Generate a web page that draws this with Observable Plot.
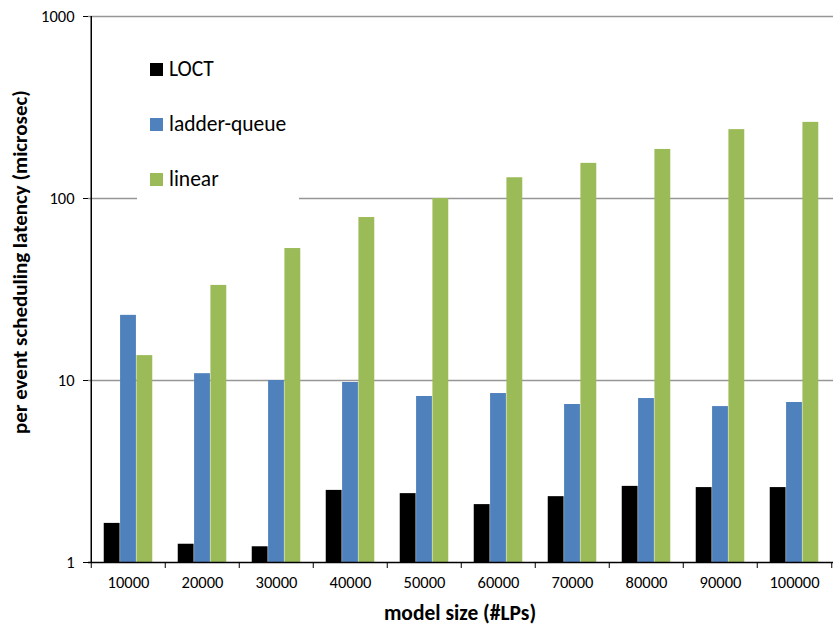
<!DOCTYPE html>
<html>
<head>
<meta charset="utf-8">
<script src="https://cdn.jsdelivr.net/npm/d3@7"></script>
<script src="https://cdn.jsdelivr.net/npm/@observablehq/plot@0.6"></script>
<style>
  html, body { margin: 0; padding: 0; background: #fff; }
  #wrap { position: relative; width: 835px; height: 627px; font-family: Carlito, Calibri, Lato, "Open Sans", sans-serif; }
  #legend { position: absolute; left: 137px; top: 48px; width: 162px; height: 158px; background: #fff; }
  .item { position: absolute; left: 13px; height: 26px; display: flex; align-items: center; font-size: 21.5px; color: #000; }
  .sw { width: 13px; height: 13px; margin-right: 6px; }
  .ttl { position: absolute; font-weight: bold; font-size: 21.5px; color: #000; white-space: nowrap; line-height: 1; }
</style>
</head>
<body>
<div id="wrap"></div>
<script>
const sizes = ["10000","20000","30000","40000","50000","60000","70000","80000","90000","100000"];
const seriesNames = ["LOCT","ladder-queue","linear"];
const seriesColors = ["#000000","#4F81BD","#9BBB59"];
const loct = [1.64, 1.26, 1.22, 2.49, 2.39, 2.08, 2.30, 2.62, 2.58, 2.58];
const ladderQueue = [22.8, 10.9, 10.0, 9.75, 8.17, 8.48, 7.38, 7.96, 7.19, 7.57];
const linear = [13.7, 33.3, 53.1, 78.6, 100, 130, 156, 186, 239, 262];
const yTicks = [1, 10, 100, 1000];

const seriesValues = [loct, ladderQueue, linear];
const data = [];
seriesNames.forEach((s, i) => sizes.forEach((c, j) => data.push({size: c, series: s, value: seriesValues[i][j]})));

const W = 835, H = 627;
const mL = 88, mR = 2, mT = 16, mB = 65;
const step = (W - mL - mR) / sizes.length;
const gapFrac = 0.342;
const gap = step * gapFrac;
const bw = (step - gap) / 3;
const FONT = "Carlito, Calibri, Lato, 'Open Sans', sans-serif";
const TICK_FS = 16.5;

const barMarks = seriesNames.map((s, i) => Plot.barY(data.filter(d => d.series === s), {
  x: "size", y1: 1, y2: "value", fill: seriesColors[i],
  insetLeft: gap / 2 + i * bw,
  insetRight: gap / 2 + (2 - i) * bw
}));

const chart = Plot.plot({
  width: W, height: H,
  marginLeft: mL, marginRight: mR, marginTop: mT, marginBottom: mB,
  style: {fontFamily: FONT, fontSize: TICK_FS + "px", color: "#000", background: "#fff"},
  x: {type: "band", domain: sizes, padding: 0, axis: null},
  y: {type: "log", domain: [1, 1000], axis: null},
  marks: [
    Plot.ruleY(yTicks.slice(1), {stroke: "#969696", strokeWidth: 1.5}),
    ...barMarks,
    Plot.ruleY([1], {stroke: "#000", strokeWidth: 1.5}),
    Plot.ruleX([sizes[0]], {stroke: "#000", strokeWidth: 1.5, dx: -step / 2}),
    Plot.axisY(yTicks, {tickSize: 5, tickFormat: d3.format("d"), tickPadding: 9, stroke: "#000", label: null, fontSize: TICK_FS}),
    Plot.axisX(sizes, {tickSize: 0, tickPadding: 14, label: null, fontSize: TICK_FS}),
    Plot.axisX(sizes, {tickSize: 6, tickFormat: null, dx: -step / 2, stroke: "#000", label: null}),
    Plot.axisX([sizes[sizes.length - 1]], {tickSize: 6, tickFormat: null, dx: step / 2, stroke: "#000", label: null})
  ]
});

d3.select(chart).selectAll("text").attr("font-size", TICK_FS).style("font-size", TICK_FS + "px").style("font-family", FONT).style("fill", "#000");

const wrap = document.getElementById("wrap");
wrap.appendChild(chart);

const legend = document.createElement("div");
legend.id = "legend";
seriesNames.forEach((s, i) => {
  const it = document.createElement("div");
  it.className = "item";
  it.style.top = (8 + i * 55) + "px";
  const sw = document.createElement("div");
  sw.className = "sw";
  sw.style.background = seriesColors[i];
  const t = document.createElement("span");
  t.textContent = s;
  it.appendChild(sw); it.appendChild(t);
  legend.appendChild(it);
});
wrap.appendChild(legend);

const xt = document.createElement("div");
xt.className = "ttl";
xt.textContent = "model size (#LPs)";
xt.style.left = "460px"; xt.style.top = "603px"; xt.style.transform = "translateX(-50%)";
wrap.appendChild(xt);

const yt = document.createElement("div");
yt.className = "ttl";
yt.textContent = "per event scheduling latency (microsec)";
yt.style.fontSize = "21px";
yt.style.left = "20px"; yt.style.top = "262px"; yt.style.transform = "translate(-50%, -50%) rotate(-90deg)";
wrap.appendChild(yt);
</script>
</body>
</html>
